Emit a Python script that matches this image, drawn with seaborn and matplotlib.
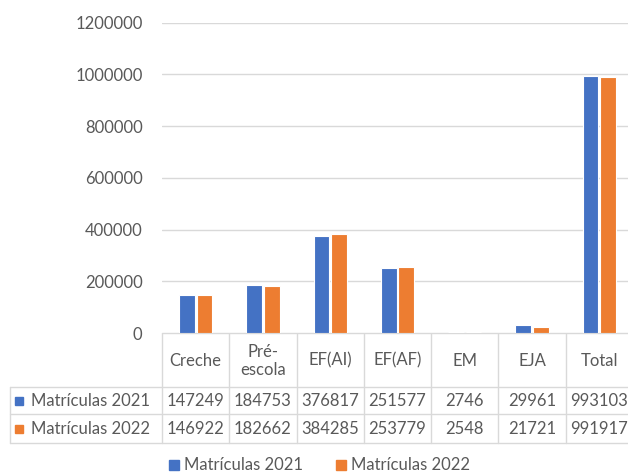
import pandas as pd
import matplotlib.pyplot as plt
import seaborn as sns

# =================== DADOS ===================

categorias = ['Creche', 'Pré-\nescola', 'EF(AI)', 'EF(AF)', 'EM', 'EJA', 'Total']
series = ['Matrículas 2021', 'Matrículas 2022']
mat_2021 = [147249, 184753, 376817, 251577, 2746, 29961, 993103]
mat_2022 = [146922, 182662, 384285, 253779, 2548, 21721, 991917]
yticks = [0, 200000, 400000, 600000, 800000, 1000000, 1200000]

CORES = ['#4472C4', '#ED7D31']
TEXTO = '#595959'
LINHA = '#D9D9D9'
W, H = 628, 472

# =================== PLOT ===================

sns.set_style('white')
plt.rcParams['font.family'] = ['Lato', 'DejaVu Sans']

df = pd.DataFrame({
    'categoria': categorias * 2,
    'serie': [series[0]] * len(categorias) + [series[1]] * len(categorias),
    'valor': mat_2021 + mat_2022,
})

fig = plt.figure(figsize=(W / 100, H / 100), dpi=100)

# eixo do grafico (em pixels: x 162..633, y 22.7..333)
x0, x1, y_top, y_base = 162, 633, 22.7, 333
ax = fig.add_axes([x0 / W, (H - y_base) / H, (x1 - x0) / W, (y_base - y_top) / H])
sns.barplot(data=df, x='categoria', y='valor', hue='serie', palette=CORES,
            saturation=1, width=0.52, gap=0.1, edgecolor='white', linewidth=0.8,
            legend=False, ax=ax, zorder=3)
ax.set_ylim(0, 1200000)
ax.set_xlim(-0.5, len(categorias) - 0.5)
ax.set_yticks(yticks)
ax.set_yticklabels([str(v) for v in yticks], color=TEXTO, fontsize=12)
ax.tick_params(axis='y', length=0, pad=14)
ax.set_xticks([])
ax.set_xlabel('')
ax.set_ylabel('')
ax.grid(axis='y', color=LINHA, linewidth=1, zorder=0)
for s in ax.spines.values():
    s.set_visible(False)

# =================== TABELA ===================

tax = fig.add_axes([0, 0, 1, 1], zorder=-1)
tax.set_xlim(0, W)
tax.set_ylim(H, 0)
tax.axis('off')

col_w = (x1 - x0) / len(categorias)
y_h1, y_r1, y_r2 = 386.7, 414.3, 442.7
x_left = 10

for y in [y_h1, y_r1, y_r2]:
    tax.plot([x_left, x1], [y, y], color=LINHA, lw=1)
tax.plot([x0, x1], [y_base, y_base], color=LINHA, lw=1)
tax.plot([x_left, x_left], [y_h1, y_r2], color=LINHA, lw=1)
for i in range(len(categorias) + 1):
    xb = x0 + i * col_w
    tax.plot([xb, xb], [y_base, y_r2], color=LINHA, lw=1)

for i, cat in enumerate(categorias):
    cx = x0 + (i + 0.5) * col_w
    tax.text(cx, (y_base + y_h1) / 2 + 1, cat, ha='center', va='center',
             color=TEXTO, fontsize=12, linespacing=1.15)
    tax.text(cx, (y_h1 + y_r1) / 2, str(mat_2021[i]), ha='center', va='center',
             color=TEXTO, fontsize=12)
    tax.text(cx, (y_r1 + y_r2) / 2, str(mat_2022[i]), ha='center', va='center',
             color=TEXTO, fontsize=12)

for j, (nome, cor) in enumerate(zip(series, CORES)):
    yc = (y_h1 + y_r1) / 2 if j == 0 else (y_r1 + y_r2) / 2
    tax.plot([19], [yc], marker='s', ms=6, color=cor, lw=0)
    tax.text(31, yc, nome, ha='left', va='center', color=TEXTO, fontsize=12)

# =================== LEGENDA ===================

leg_y = 465
for nome, cor, xs in zip(series, CORES, [174, 341]):
    tax.plot([xs], [leg_y], marker='s', ms=7, color=cor, lw=0)
    tax.text(xs + 10, leg_y, nome, ha='left', va='center', color=TEXTO, fontsize=12)

fig.savefig('out.png', dpi=100)
